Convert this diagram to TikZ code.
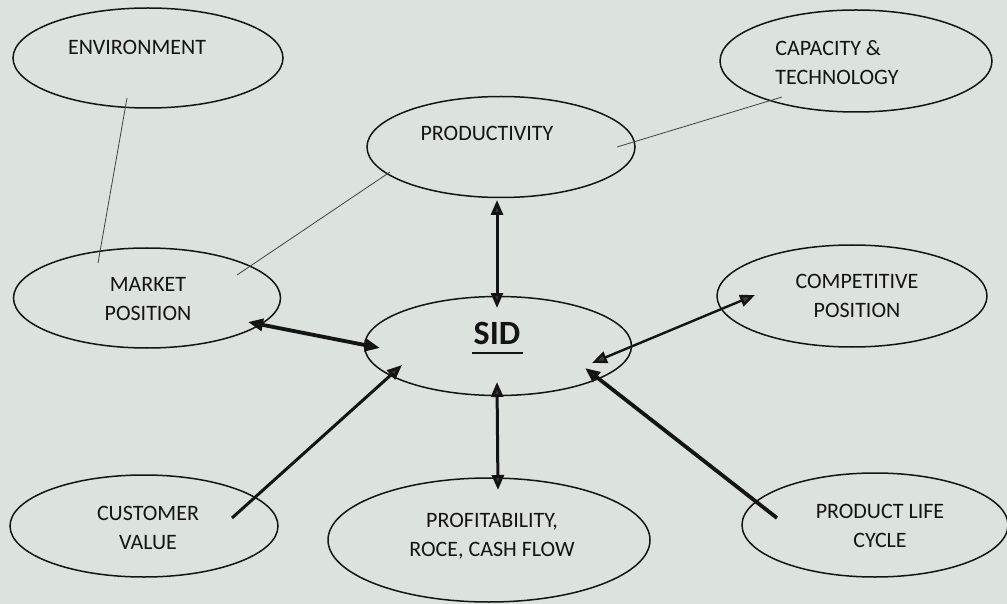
\documentclass[tikz,border=0pt]{standalone}
\usepackage{fontspec}
\setmainfont{Carlito}
\usetikzlibrary{shapes.geometric,arrows.meta}
\definecolor{paper}{RGB}{219,227,220}
\definecolor{ink}{RGB}{20,20,20}
\definecolor{headfill}{RGB}{60,60,60}
\begin{document}
\begin{tikzpicture}[x=1pt,y=-1pt,
  oval/.style={ellipse,draw=ink,line width=1.5pt,inner sep=0pt,minimum width=#1},
  lbl/.style={inner sep=0pt,text=ink,font=\fontsize{22}{29}\selectfont,align=center},
  thin/.style={draw=ink!80,line width=0.8pt},
  thick/.style={draw=ink,line width=#1},
]
\fill[paper] (0,0) rectangle (1007,604);
\useasboundingbox (0,0) rectangle (1007,604);

% ellipses
\node[oval=270pt,minimum height=100pt] (env)  at (148,58)  {};
\node[oval=268pt,minimum height=101pt] (prod) at (501,147) {};
\node[oval=272pt,minimum height=102pt] (cap)  at (856,61)  {};
\node[oval=267pt,minimum height=100pt] (mkt)  at (147,298) {};
\node[oval=267pt,minimum height=99pt]  (sid)  at (498,346) {};
\node[oval=270pt,minimum height=102pt] (comp) at (852,296) {};
\node[oval=268pt,minimum height=102pt] (cust) at (144,526) {};
\node[oval=322pt,minimum height=124pt] (prof) at (489,540) {};
\node[oval=266pt,minimum height=104pt] (plc)  at (875,525) {};

% labels
\node[lbl] (envt)  at (137,47)  {ENVIRONMENT};
\node[lbl] (prodt) at (487,133) {PRODUCTIVITY};
\node[lbl,align=left] (capt) at (837,63) {CAPACITY \&\\TECHNOLOGY};
\node[lbl] (mktt)  at (148,299) {MARKET\\POSITION};
\node[lbl] (compt) at (857,296) {COMPETITIVE\\POSITION};
\node[lbl] (custt) at (148,528) {CUSTOMER\\VALUE};
\node[lbl] (proft) at (492,536) {PROFITABILITY,\\ROCE, CASH FLOW};
\node[lbl] (plct)  at (880,526) {PRODUCT LIFE\\CYCLE};
\node[inner sep=0pt,text=ink,font=\fontsize{34}{34}\selectfont\bfseries] (sidt) at (497,333) {SID};
\draw[ink,line width=2.6pt] ([shift={(-25,20)}]sidt.center) -- ([shift={(26,20)}]sidt.center);

% thin links
\draw[thin] ([shift={(-21,40)}]env.center) -- ([shift={(-49,-35)}]mkt.center);
\draw[thin] ([shift={(90,-23)}]mkt.center) -- ([shift={(-111,25)}]prod.center);
\draw[thin] ([shift={(116,0)}]prod.center) -- ([shift={(-74,36)}]cap.center);

% arrows
\draw[thick=3pt,{Triangle[length=15pt,width=12pt,fill=headfill]}-{Triangle[length=15pt,width=12pt,fill=headfill]}]
  ([shift={(-4,53)}]prod.center) -- ([shift={(-1,-38)}]sid.center);
\draw[thick=3.8pt,{Triangle[length=15pt,width=12pt,fill=headfill]}-{Triangle[length=15pt,width=12pt,fill=headfill]}]
  ([shift={(101,24)}]mkt.center) -- ([shift={(-118,2)}]sid.center);
\draw[thick=3pt,-{Triangle[length=15pt,width=12pt,fill=headfill]}]
  ([shift={(88,-8)}]cust.center) -- ([shift={(-96,19)}]sid.center);
\draw[thick=3pt,{Triangle[length=15pt,width=12pt,fill=headfill]}-{Triangle[length=15pt,width=12pt,fill=headfill]}]
  ([shift={(-1,36)}]sid.center) -- ([shift={(9,-50)}]prof.center);
\draw[thick=2.4pt,{Triangle[length=15pt,width=12pt,fill=headfill]}-{Triangle[length=15pt,width=12pt,fill=headfill]}]
  ([shift={(-97,-1)}]comp.center) -- ([shift={(94,17)}]sid.center);
\draw[thick=3.8pt,-{Triangle[length=15pt,width=12pt,fill=headfill]}]
  ([shift={(-98,-7)}]plc.center) -- ([shift={(87,22)}]sid.center);
\end{tikzpicture}
\end{document}
